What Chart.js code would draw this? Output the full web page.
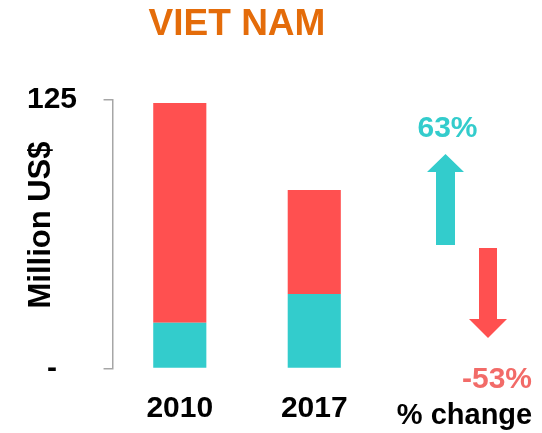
<!DOCTYPE html>
<html>
<head>
<meta charset="utf-8">
<script src="https://cdn.jsdelivr.net/npm/chart.js@4"></script>
<style>
html,body{margin:0;padding:0;background:#fff;}
#wrap{position:relative;width:542px;height:433px;}
</style>
</head>
<body>
<div id="wrap"><canvas id="c" width="542" height="433"></canvas></div>
<script>
// ---- data ----
const categories = ['2010', '2017'];
const tealValues = [21.3, 34.7];
const redValues = [102.3, 48.4];
const yTicks = [0, 125];
const titleText = 'VIET NAM';
const yAxisTitle = 'Million US$';
const changeLabels = ['63%', '-53%'];
const changeCaption = '% change';

const TEAL = '#33CCCC';
const RED = '#FF5050';
const SALMON = '#F26B68';
const FONT = '"Liberation Sans", Arial, sans-serif';

const decorPlugin = {
  id: 'decor',
  afterDraw(chart) {
    const ctx = chart.ctx;
    ctx.save();
    // title
    ctx.fillStyle = '#E46C0A';
    ctx.font = 'bold 37px ' + FONT;
    ctx.textAlign = 'center';
    ctx.textBaseline = 'middle';
    ctx.fillText(titleText, 237, 25);
    // y axis title
    ctx.save();
    ctx.translate(41, 225);
    ctx.rotate(-Math.PI / 2);
    ctx.fillStyle = '#000';
    ctx.font = 'bold 31px ' + FONT;
    ctx.fillText(yAxisTitle, 0, 0);
    ctx.restore();
    // up arrow (teal)
    ctx.fillStyle = TEAL;
    ctx.beginPath();
    ctx.moveTo(436, 245);
    ctx.lineTo(436, 172);
    ctx.lineTo(427, 172);
    ctx.lineTo(445.5, 154);
    ctx.lineTo(464, 172);
    ctx.lineTo(455, 172);
    ctx.lineTo(455, 245);
    ctx.closePath();
    ctx.fill();
    // down arrow (red)
    ctx.fillStyle = RED;
    ctx.beginPath();
    ctx.moveTo(479, 248);
    ctx.lineTo(479, 319);
    ctx.lineTo(469, 319);
    ctx.lineTo(488, 338);
    ctx.lineTo(507, 319);
    ctx.lineTo(497, 319);
    ctx.lineTo(497, 248);
    ctx.closePath();
    ctx.fill();
    // labels
    ctx.font = 'bold 30px ' + FONT;
    ctx.fillStyle = TEAL;
    ctx.fillText(changeLabels[0], 447.5, 129);
    ctx.fillStyle = SALMON;
    ctx.fillText(changeLabels[1], 497, 380);
    ctx.fillStyle = '#000';
    ctx.font = 'bold 29px ' + FONT;
    ctx.fillText(changeCaption, 464.5, 416);
    ctx.restore();
  }
};

new Chart(document.getElementById('c'), {
  type: 'bar',
  data: {
    labels: categories,
    datasets: [
      { label: 'teal', data: tealValues, backgroundColor: TEAL, borderWidth: 0 },
      { label: 'red', data: redValues, backgroundColor: RED, borderWidth: 0 }
    ]
  },
  options: {
    responsive: false,
    animation: false,
    events: [],
    layout: { padding: { left: 0.5, right: 160.5, top: 100, bottom: -15.5 } },
    plugins: { legend: { display: false }, tooltip: { enabled: false }, title: { display: false } },
    datasets: { bar: { categoryPercentage: 1, barPercentage: 0.395 } },
    scales: {
      x: {
        stacked: true,
        offset: true,
        grid: { display: false, drawTicks: false },
        border: { display: false },
        ticks: { color: '#000', font: { family: FONT, size: 30, weight: 'bold' }, padding: 22 }
      },
      y: {
        stacked: true,
        min: yTicks[0],
        max: yTicks[yTicks.length - 1],
        afterBuildTicks(scale) { scale.ticks = yTicks.map(v => ({ value: v })); },
        grid: { drawOnChartArea: false, drawTicks: true, tickLength: 9, color: '#A6A6A6', lineWidth: 1.5 },
        border: { display: true, color: '#A6A6A6', width: 1.5 },
        ticks: {
          color: '#000',
          crossAlign: 'center',
          padding: 26.5,
          font: { family: FONT, size: 30, weight: 'bold' },
          callback: v => (v === 0 ? '-' : String(v))
        }
      }
    }
  },
  plugins: [decorPlugin]
});
</script>
</body>
</html>
